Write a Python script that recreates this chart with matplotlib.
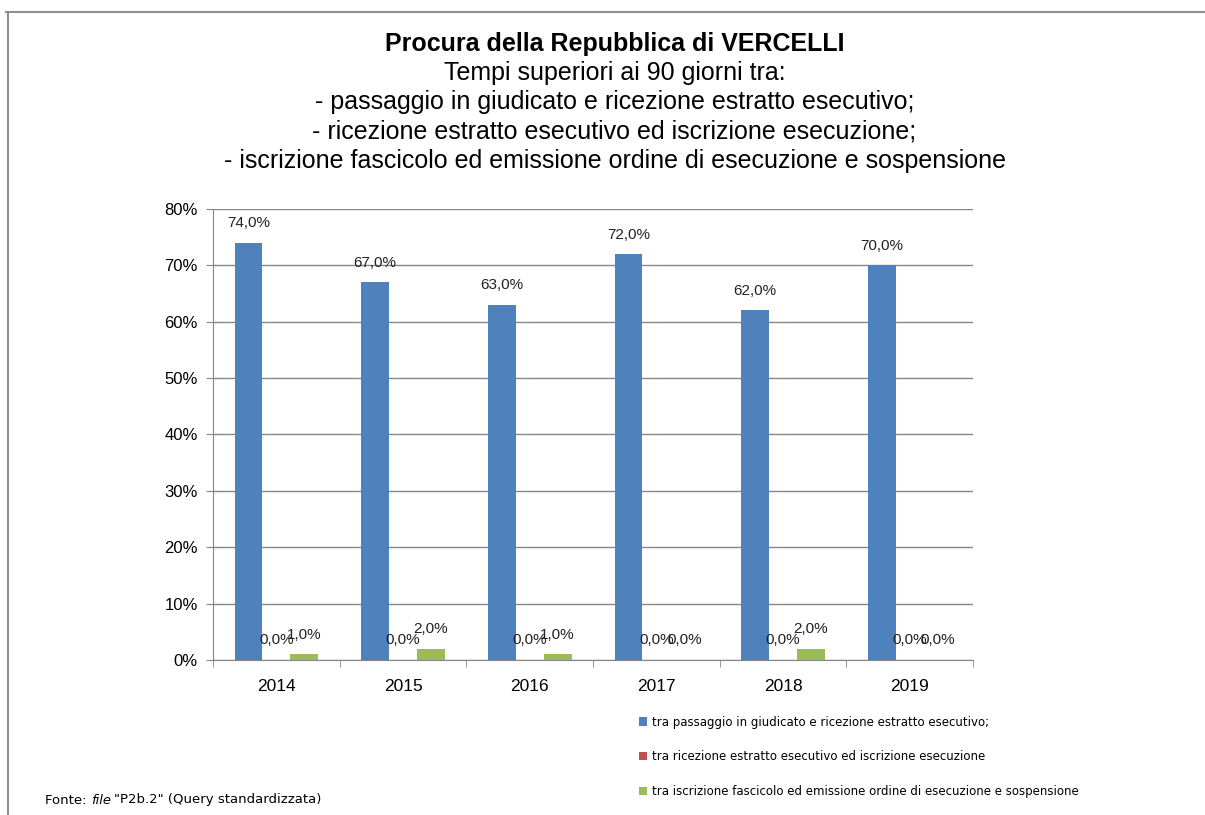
import matplotlib.pyplot as plt
import matplotlib.lines as mlines
import numpy as np

years = ["2014", "2015", "2016", "2017", "2018", "2019"]
giudicato_estratto = [74.0, 67.0, 63.0, 72.0, 62.0, 70.0]
estratto_iscrizione = [0.0, 0.0, 0.0, 0.0, 0.0, 0.0]
iscrizione_ordine = [1.0, 2.0, 1.0, 0.0, 2.0, 0.0]

series_names = [
    "tra passaggio in giudicato e ricezione estratto esecutivo;",
    "tra ricezione estratto esecutivo ed iscrizione esecuzione",
    "tra iscrizione fascicolo ed emissione ordine di esecuzione e sospensione",
]
colors = ["#4F81BD", "#C0504D", "#9BBB59"]

title_lines = [
    "Tempi superiori ai 90 giorni tra:",
    "- passaggio in giudicato e ricezione estratto esecutivo;",
    "- ricezione estratto esecutivo ed iscrizione esecuzione;",
    "- iscrizione fascicolo ed emissione ordine di esecuzione e sospensione",
]

plt.rcParams['font.family'] = ['Liberation Sans', 'DejaVu Sans']

fig = plt.figure(figsize=(12.05, 8.15), dpi=100)
ax = fig.add_axes([0.1768, 0.1902, 0.8075 - 0.1768, 0.7436 - 0.1902])

x = np.arange(len(years))
w = 0.22
bars = []
for i, vals in enumerate([giudicato_estratto, estratto_iscrizione, iscrizione_ordine]):
    b = ax.bar(x + (i - 1) * w, vals, w, color=colors[i], label=series_names[i], zorder=3)
    bars.append(b)
    for xi, v in zip(x + (i - 1) * w, vals):
        ax.annotate(f"{v:.1f}%".replace(".", ","), (xi, v), xytext=(0, 9),
                    textcoords="offset points", ha="center", va="bottom",
                    fontsize=11, color="#222222", zorder=4)

ax.set_xlim(-0.5, len(years) - 0.5)
ax.set_ylim(0, 80)
ax.set_yticks(range(0, 81, 10))
ax.set_yticklabels([f"{v}%" for v in range(0, 81, 10)], fontsize=12)
ax.set_xticks(x)
ax.set_xticklabels(years, fontsize=12.5)
ax.set_xticks(np.arange(-0.5, len(years)), minor=True)
ax.tick_params(axis="x", which="major", length=0, pad=14)
ax.tick_params(axis="x", which="minor", length=5, color="#868686")
ax.tick_params(axis="y", length=5, color="#868686", pad=6)
ax.grid(axis="y", color="#868686", linewidth=1, zorder=0)
for s in ["top", "right"]:
    ax.spines[s].set_visible(False)
for s in ["left", "bottom"]:
    ax.spines[s].set_color("#868686")

fig.text(0.51, 1 - 44 / 815, "Procura della Repubblica di VERCELLI", ha="center", va="center",
         fontsize=18, fontweight="bold")
for k, line in enumerate(title_lines):
    fig.text(0.51, 1 - (73 + 29.3 * k) / 815, line, ha="center", va="center", fontsize=18)

fig.legend(handles=bars, labels=series_names, loc="upper left",
           bbox_to_anchor=(628 / 1205, 1 - 705 / 815), frameon=False,
           prop={"family": "DejaVu Sans", "size": 8.5}, handlelength=0.7, handleheight=0.7,
           handletextpad=0.4, labelspacing=1.85)

# footnote with italic word
fy = 1 - 800 / 815
t1 = fig.text(45 / 1205, fy, "Fonte: ", fontsize=9.5, family="DejaVu Sans", va="center")
fig.canvas.draw()
r = fig.canvas.get_renderer()
bb = t1.get_window_extent(r)
t2 = fig.text(bb.x1 / 1205, fy, "file", fontsize=9.5, family="DejaVu Sans",
              style="italic", va="center")
bb2 = t2.get_window_extent(r)
fig.text(bb2.x1 / 1205 + 0.003, fy, "\"P2b.2\" (Query standardizzata)", fontsize=9.5,
         family="DejaVu Sans", va="center")

# outer frame (top and left)
fig.add_artist(mlines.Line2D([6 / 1205, 1.0], [1 - 12 / 815, 1 - 12 / 815], color="#909090", lw=1.5))
fig.add_artist(mlines.Line2D([8 / 1205, 8 / 1205], [0, 1 - 12 / 815], color="#909090", lw=1.5))

fig.savefig("out.png", dpi=100)
